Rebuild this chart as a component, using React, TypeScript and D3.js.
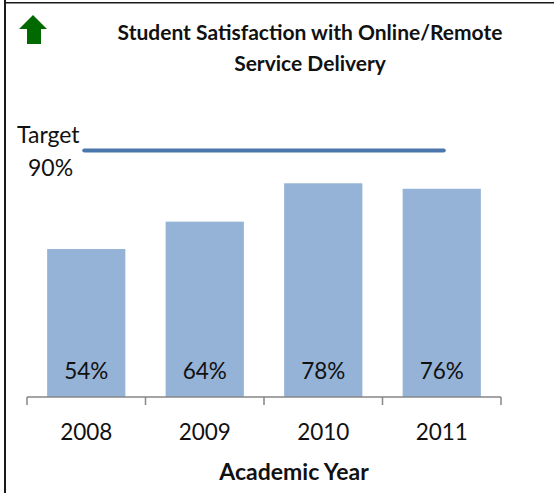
import { useEffect, useRef } from 'react';
import * as d3 from 'd3';

const YEARS = ['2008', '2009', '2010', '2011'];
const SATISFACTION = [54, 64, 78, 76];
const TARGET = 90;
const TITLE_LINES = ['Student Satisfaction with Online/Remote', 'Service Delivery'];
const X_TITLE = 'Academic Year';

const WIDTH = 554;
const HEIGHT = 493;
const FONT = 'Lato, "Open Sans", sans-serif';
const BAR_FILL = '#95b3d7';
const TARGET_STROKE = '#4a76ac';
const AXIS_STROKE = '#868686';

export default function App() {
  const svgRef = useRef<SVGSVGElement>(null);

  useEffect(() => {
    const svg = d3.select(svgRef.current);
    svg.selectAll('*').remove();
    svg.style('font-family', FONT);

    const x = d3.scaleBand().domain(YEARS).range([27, 501]).paddingInner(0.34).paddingOuter(0.17);
    const y = d3.scaleLinear().domain([0, 100]).range([397, 123]);
    const half = (x.step() * x.paddingInner()) / 2;

    // frame lines
    svg.append('rect').attr('x', 4).attr('y', 0).attr('width', 2).attr('height', HEIGHT).attr('fill', '#1a1a1a');
    svg.append('rect').attr('x', 4).attr('y', 2).attr('width', WIDTH - 4).attr('height', 1.5).attr('fill', '#1a1a1a');

    // green up arrow
    svg
      .append('path')
      .attr('d', 'M33,15 L47,29 L41,29 L41,44 L27,44 L27,29 L19,29 Z')
      .attr('fill', '#006a00');

    // title
    svg
      .append('g')
      .selectAll('text')
      .data(TITLE_LINES)
      .join('text')
      .attr('x', 310)
      .attr('y', (_, i) => 40 + i * 31)
      .attr('text-anchor', 'middle')
      .style('font-size', '21px')
      .style('font-weight', 'bold')
      .style('fill', '#111')
      .text((d) => d);

    // bars
    svg
      .append('g')
      .selectAll('rect')
      .data(YEARS)
      .join('rect')
      .attr('x', (d) => x(d)!)
      .attr('y', (_, i) => y(SATISFACTION[i]))
      .attr('width', x.bandwidth())
      .attr('height', (_, i) => y(0) - y(SATISFACTION[i]))
      .attr('fill', BAR_FILL);

    // value labels
    svg
      .append('g')
      .selectAll('text')
      .data(YEARS)
      .join('text')
      .attr('x', (d) => x(d)! + x.bandwidth() / 2)
      .attr('y', y(0) - 18)
      .attr('text-anchor', 'middle')
      .style('font-size', '22.5px')
      .style('fill', '#111')
      .text((_, i) => `${SATISFACTION[i]}%`);

    // target line
    svg
      .append('line')
      .attr('x1', x(YEARS[0])! + x.bandwidth() / 2 - 2)
      .attr('x2', x(YEARS[YEARS.length - 1])! + x.bandwidth() / 2 + 2)
      .attr('y1', y(TARGET))
      .attr('y2', y(TARGET))
      .attr('stroke', TARGET_STROKE)
      .attr('stroke-width', 4)
      .attr('stroke-linecap', 'round');

    svg
      .append('text')
      .attr('x', 17)
      .attr('y', 143)
      .style('font-size', '23px')
      .style('fill', '#111')
      .text('Target');
    svg
      .append('text')
      .attr('x', 28)
      .attr('y', 176)
      .style('font-size', '23px')
      .style('fill', '#111')
      .text(`${TARGET}%`);

    // x axis with boundary ticks
    const axis = svg.append('g');
    axis
      .append('line')
      .attr('x1', x.range()[0])
      .attr('x2', x.range()[1])
      .attr('y1', y(0))
      .attr('y2', y(0))
      .attr('stroke', AXIS_STROKE)
      .attr('stroke-width', 1.5);
    const bounds = YEARS.map((d) => x(d)! - half).concat([x(YEARS[YEARS.length - 1])! + x.bandwidth() + half]);
    axis
      .selectAll('line.tick')
      .data(bounds)
      .join('line')
      .attr('class', 'tick')
      .attr('x1', (d) => d)
      .attr('x2', (d) => d)
      .attr('y1', y(0))
      .attr('y2', y(0) + 8)
      .attr('stroke', AXIS_STROKE)
      .attr('stroke-width', 1.5);
    axis
      .selectAll('text')
      .data(YEARS)
      .join('text')
      .attr('x', (d) => x(d)! + x.bandwidth() / 2)
      .attr('y', 440)
      .attr('text-anchor', 'middle')
      .style('font-size', '22.5px')
      .style('fill', '#111')
      .text((d) => d);

    svg
      .append('text')
      .attr('x', 294)
      .attr('y', 480)
      .attr('text-anchor', 'middle')
      .style('font-size', '23px')
      .style('font-weight', 'bold')
      .style('fill', '#111')
      .text(X_TITLE);
  }, []);

  return (
    <div style={{ position: 'absolute', left: 0, top: 0 }}>
      <svg ref={svgRef} width={WIDTH} height={HEIGHT} style={{ display: 'block', background: '#fff' }} />
    </div>
  );
}
